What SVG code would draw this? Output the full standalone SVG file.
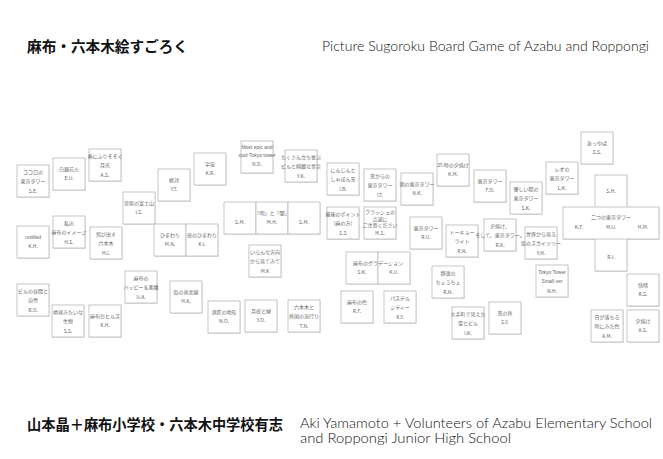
<svg xmlns="http://www.w3.org/2000/svg" width="663" height="459" viewBox="0 0 663 459">
<style>
.bg{fill:#fff}
.b{fill:#fff;stroke:#b8b8b8;stroke-width:0.8}
.sh{fill:#e2e2e2}
.t{font-family:"Noto Sans CJK JP","Liberation Sans",sans-serif;font-size:5px;fill:#666;text-anchor:middle}
.e{font-family:"Liberation Sans","Noto Sans CJK JP",sans-serif;font-size:5px;fill:#666;text-anchor:middle}
.jt{font-family:"Noto Sans CJK JP",sans-serif;font-weight:700;font-size:14.5px;fill:#111}
.et{font-family:Lato,"Open Sans","Liberation Sans",sans-serif;font-weight:300;font-size:13.5px;fill:#111}
</style>
<defs>
<g id="box"><rect class="sh" x="0.6" y="1" width="32" height="32"/><rect class="b" x="0" y="0" width="32" height="32"/></g>
</defs>
<rect class="bg" x="0" y="0" width="663" height="459"/>
<g id="titles">
<text class="jt" x="27" y="52" textLength="161" lengthAdjust="spacingAndGlyphs">麻布・六本木絵すごろく</text>
<text class="et" x="322" y="51" textLength="327" lengthAdjust="spacingAndGlyphs">Picture Sugoroku Board Game of Azabu and Roppongi</text>
<text class="jt" x="27" y="430" textLength="256" lengthAdjust="spacingAndGlyphs">山本晶＋麻布小学校・六本木中学校有志</text>
<text class="et" x="300" y="428" textLength="352" lengthAdjust="spacingAndGlyphs">Aki Yamamoto + Volunteers of Azabu Elementary School</text>
<text class="et" x="300" y="443" textLength="211" lengthAdjust="spacingAndGlyphs">and Roppongi Junior High School</text>
</g>
<g id="connectors"></g>

<g id="n01" transform="translate(17,165)"><use href="#box"/><text class="t" x="16" y="9">ココロの</text><text class="t" x="16" y="18">東京タワー</text><text class="t" x="16" y="27.5">S.E.</text></g>
<g id="n02" transform="translate(53,158)"><use href="#box"/><text class="t" x="16" y="13">白銀花火</text><text class="t" x="16" y="22">E.U.</text></g>
<g id="n03" transform="translate(89,149)"><use href="#box"/><text class="t" x="16" y="9">春にふりそそぐ</text><text class="t" x="16" y="18">月光</text><text class="t" x="16" y="27.5">A.S.</text></g>
<g id="n04" transform="translate(17,226)"><use href="#box"/><text class="e" x="16" y="13">untitled</text><text class="t" x="16" y="22">K.H.</text></g>
<g id="n05" transform="translate(53,216)"><use href="#box"/><text class="t" x="16" y="9">私の</text><text class="t" x="16" y="18">麻布のイメージ</text><text class="t" x="16" y="27.5">H.S.</text></g>
<g id="n06" transform="translate(90,227)"><use href="#box"/><text class="t" x="16" y="9">飛び出す</text><text class="t" x="16" y="18">六本木</text><text class="t" x="16" y="27.5">H.I.</text></g>
<g id="n07" transform="translate(17,284)"><use href="#box"/><text class="t" x="16" y="9">ビルの谷間と</text><text class="t" x="16" y="18">自然</text><text class="t" x="16" y="27.5">R.O.</text></g>
<g id="n08" transform="translate(52,305)"><use href="#box"/><text class="t" x="16" y="9">地球みたいな</text><text class="t" x="16" y="18">生物</text><text class="t" x="16" y="27.5">S.S.</text></g>
<g id="n09" transform="translate(89,305)"><use href="#box"/><text class="t" x="16" y="13">麻布台ヒルズ</text><text class="t" x="16" y="22">K.H.</text></g>
<g id="n10" transform="translate(123,192)"><use href="#box"/><text class="t" x="16" y="13">草原の富士山</text><text class="t" x="16" y="22">I.S.</text></g>
<g id="n11" transform="translate(158,169)"><use href="#box"/><text class="t" x="16" y="13">絶対</text><text class="t" x="16" y="22">Y.T.</text></g>
<g id="n12" transform="translate(194,153)"><use href="#box"/><text class="t" x="16" y="13">宇宙</text><text class="t" x="16" y="22">K.R.</text></g>
<g id="n13" transform="translate(154,224)"><use href="#box"/><text class="t" x="16" y="13">ひまわり</text><text class="t" x="16" y="22">M.N.</text></g>
<g id="n14" transform="translate(186,224)"><use href="#box"/><text class="t" x="16" y="13">夜のひまわり</text><text class="t" x="16" y="22">K.I.</text></g>
<g id="n15" transform="translate(125,271)"><use href="#box"/><text class="t" x="16" y="9">麻布の</text><text class="t" x="16" y="18">ハッピー＆悪魔</text><text class="t" x="16" y="27.5">U.A.</text></g>
<g id="n16" transform="translate(170,281)"><use href="#box"/><text class="t" x="16" y="13">街の南北線</text><text class="t" x="16" y="22">H.K.</text></g>
<g id="n17" transform="translate(208,301)"><use href="#box"/><text class="t" x="16" y="13">港区の地形</text><text class="t" x="16" y="22">N.O.</text></g>
<g id="n18" transform="translate(241,141)"><use href="#box"/><text class="e" x="16" y="8">Most epic and</text><text class="e" x="16" y="16">cool Tokyo tower</text><text class="t" x="16" y="25">N.D.</text></g>
<g id="n19" transform="translate(285,150)"><use href="#box"/><text class="t" x="16" y="9">たくさん立ち並ぶ</text><text class="t" x="16" y="18">ビルと綺麗な青空</text><text class="t" x="16" y="27.5">Y.K.</text></g>
<g id="n20a" transform="translate(224,202)"><use href="#box"/><text class="t" x="16" y="22">S.M.</text></g>
<g id="n20b" transform="translate(256,202)"><use href="#box"/><text class="t" x="16" y="13">「明」と「闇」</text><text class="t" x="16" y="22">M.H.</text></g>
<g id="n20c" transform="translate(288,202)"><use href="#box"/><text class="t" x="16" y="22">S.M.</text></g>
<g id="n21" transform="translate(249,245)"><use href="#box"/><text class="t" x="16" y="9">いろんな方向</text><text class="t" x="16" y="18">から見てみて</text><text class="t" x="16" y="27.5">M.K</text></g>
<g id="n22" transform="translate(245,300)"><use href="#box"/><text class="t" x="16" y="13">月夜と緑</text><text class="t" x="16" y="22">Y.O.</text></g>
<g id="n23" transform="translate(288,300)"><use href="#box"/><text class="t" x="16" y="9">六本木と</text><text class="t" x="16" y="18">外国の流行り</text><text class="t" x="16" y="27.5">T.N.</text></g>
<g id="n24" transform="translate(327,163)"><use href="#box"/><text class="t" x="16" y="9">にんじんと</text><text class="t" x="16" y="18">しゃぼん玉</text><text class="t" x="16" y="27.5">I.B.</text></g>
<g id="n25" transform="translate(364,169)"><use href="#box"/><text class="t" x="16" y="9">窓からの</text><text class="t" x="16" y="18">東京タワー</text><text class="t" x="16" y="27.5">I.T.</text></g>
<g id="n26" transform="translate(401,173)"><use href="#box"/><text class="t" x="16" y="13">朝の東京タワー</text><text class="t" x="16" y="22">N.K.</text></g>
<g id="n27" transform="translate(327,207)"><use href="#box"/><text class="t" x="16" y="9">最後のポイント</text><text class="t" x="16" y="18">(麻の方)</text><text class="t" x="16" y="27.5">S.S</text></g>
<g id="n28" transform="translate(364,207)"><use href="#box"/><text class="t" x="16" y="7">フラッシュの</text><text class="t" x="16" y="13.5">点滅に</text><text class="t" x="16" y="20">ご注意ください</text><text class="t" x="16" y="28">M.S.</text></g>
<g id="n29" transform="translate(410,217)"><use href="#box"/><text class="t" x="16" y="13">東京タワー</text><text class="t" x="16" y="22">R.U.</text></g>
<g id="n30a" transform="translate(346,252)"><use href="#box"/><text class="t" x="16" y="22">S.K.</text></g>
<g id="n30b" transform="translate(378,252)"><use href="#box"/><text class="t" x="16" y="22">K.U.</text></g>
<g id="n30" transform="translate(346,252)"><text class="t" x="32" y="13">麻布のグラデーション</text></g>
<g id="n31" transform="translate(341,291)"><use href="#box"/><text class="t" x="16" y="13">麻布の色</text><text class="t" x="16" y="22">R.F.</text></g>
<g id="n32" transform="translate(384,291)"><use href="#box"/><text class="t" x="16" y="9">パステル</text><text class="t" x="16" y="18">シティー</text><text class="t" x="16" y="27.5">K.Y.</text></g>
<g id="n33" transform="translate(437,154)"><use href="#box"/><text class="t" x="16" y="13">25 時の夕焼け</text><text class="t" x="16" y="22">K.M.</text></g>
<g id="n34" transform="translate(474,170)"><use href="#box"/><text class="t" x="16" y="13">東京タワー</text><text class="t" x="16" y="22">F.O.</text></g>
<g id="n35" transform="translate(510,182)"><use href="#box"/><text class="t" x="16" y="9">優しい陽の</text><text class="t" x="16" y="18">東京タワー</text><text class="t" x="16" y="27.5">S.K.</text></g>
<g id="n36" transform="translate(446,225)"><use href="#box"/><text class="t" x="16" y="9">トーキョー</text><text class="t" x="16" y="18">ライト</text><text class="t" x="16" y="27.5">R.N.</text></g>
<g id="n37" transform="translate(484,219)"><use href="#box"/><text class="t" x="16" y="9">夕焼け、</text><text class="t" x="16" y="18">そして、東京タワー。</text><text class="t" x="16" y="27.5">R.K.</text></g>
<g id="n38" transform="translate(525,227)"><use href="#box"/><text class="t" x="16" y="9">世界から見る</text><text class="t" x="16" y="18">街のスカイツリー</text><text class="t" x="16" y="27.5">Y.H.</text></g>
<g id="n39" transform="translate(432,266)"><use href="#box"/><text class="t" x="16" y="9">静謐の</text><text class="t" x="16" y="18">ちょうちょ</text><text class="t" x="16" y="27.5">R.N.</text></g>
<g id="n40" transform="translate(452,307)"><use href="#box"/><text class="t" x="16" y="9">大手町で見えた</text><text class="t" x="16" y="18">雪とビル</text><text class="t" x="16" y="27.5">I.K.</text></g>
<g id="n41" transform="translate(489,302)"><use href="#box"/><text class="t" x="16" y="13">窓の外</text><text class="t" x="16" y="22">S.Y.</text></g>
<g id="n42" transform="translate(536,265)"><use href="#box"/><text class="e" x="16" y="9">Tokyo Tower</text><text class="e" x="16" y="18">Small ver</text><text class="t" x="16" y="27.5">N.H.</text></g>
<g id="n43" transform="translate(581,132)"><use href="#box"/><text class="t" x="16" y="13">あっやば</text><text class="t" x="16" y="22">S.S.</text></g>
<g id="n44" transform="translate(546,162)"><use href="#box"/><text class="t" x="16" y="9">レオの</text><text class="t" x="16" y="18">東京タワー</text><text class="t" x="16" y="27.5">L.K.</text></g>
<g id="n45">
<rect class="sh" x="595.6" y="176" width="32" height="96"/><rect class="sh" x="563.6" y="208" width="96" height="32"/>
<rect class="b" x="595" y="175" width="32" height="96"/><rect class="b" x="563" y="207" width="96" height="32"/>
<text class="t" x="611" y="193">S.H.</text>
<text class="t" x="611" y="218.5">二つの東京タワー</text>
<text class="t" x="579" y="228.5">K.F.</text><text class="t" x="611" y="228.5">M.U.</text><text class="t" x="643" y="228.5">H.M.</text>
<text class="t" x="611" y="259">R.I.</text>
</g>
<g id="n46" transform="translate(627,274)"><use href="#box"/><text class="t" x="16" y="13">快晴</text><text class="t" x="16" y="22">R.S.</text></g>
<g id="n47" transform="translate(591,310)"><use href="#box"/><text class="t" x="16" y="9">日が落ちる</text><text class="t" x="16" y="18">時にみた色</text><text class="t" x="16" y="27.5">A.M.</text></g>
<g id="n48" transform="translate(627,310)"><use href="#box"/><text class="t" x="16" y="13">夕焼け</text><text class="t" x="16" y="22">A.S.</text></g>
</svg>
